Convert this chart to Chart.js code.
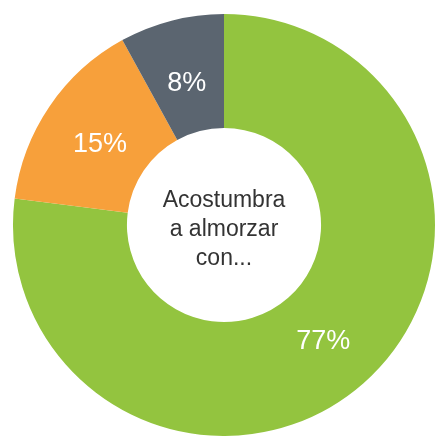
<!DOCTYPE html>
<html>
<head>
<meta charset="utf-8">
<script src="https://cdn.jsdelivr.net/npm/chart.js@4/dist/chart.umd.min.js"></script>
<style>
  body { margin: 0; background: #fff; }
</style>
</head>
<body>
<canvas id="myChart" width="435" height="436"></canvas>
<script>
let categories = ["Familia", "Amigos", "Solo"];
let values = [77, 15, 8];
let colors = ['#93c43f', '#f7a03b', '#5b6570'];
let centerLines = ["Acostumbra", "a almorzar", "con..."];

// percentages written on each slice, a bit inside the ring's middle
let sliceLabels = {
    id: 'sliceLabels',
    afterDatasetsDraw(chart) {
        let ctx = chart.ctx;
        let meta = chart.getDatasetMeta(0);
        ctx.save();
        ctx.fillStyle = '#ffffff';
        ctx.font = '27px "Liberation Sans", Arial, sans-serif';
        ctx.textAlign = 'center';
        ctx.textBaseline = 'middle';
        meta.data.forEach((arc, i) => {
            let mid = (arc.startAngle + arc.endAngle) / 2;
            let r = (arc.innerRadius + arc.outerRadius) / 2 - 4;
            let x = arc.x + Math.cos(mid) * r;
            let y = arc.y + Math.sin(mid) * r + 4;
            ctx.fillText(chart.data.datasets[0].data[i] + '%', x, y);
        });
        ctx.restore();
    }
};

// text in the hole
let centerText = {
    id: 'centerText',
    afterDatasetsDraw(chart) {
        let ctx = chart.ctx;
        let arc = chart.getDatasetMeta(0).data[0];
        ctx.save();
        ctx.fillStyle = '#333333';
        ctx.font = '23px "Liberation Sans", Arial, sans-serif';
        ctx.textAlign = 'center';
        ctx.textBaseline = 'middle';
        centerLines.forEach((line, i) => {
            ctx.fillText(line, arc.x, arc.y - 24 + i * 29);
        });
        ctx.restore();
    }
};

let ctx = document.getElementById('myChart').getContext('2d');

let myChart = new Chart(ctx, {
    type: "doughnut",
    data: {
        labels: categories,
        datasets: [{
            data: values,
            backgroundColor: colors,
            borderWidth: 0
        }]
    },
    options: {
        responsive: false,
        animation: false,
        cutout: '46%',
        layout: {
            padding: { left: 13, right: 0, top: 14, bottom: 0 }
        },
        plugins: {
            legend: { display: false },
            tooltip: { enabled: false }
        }
    },
    plugins: [sliceLabels, centerText]
});
</script>
</body>
</html>
